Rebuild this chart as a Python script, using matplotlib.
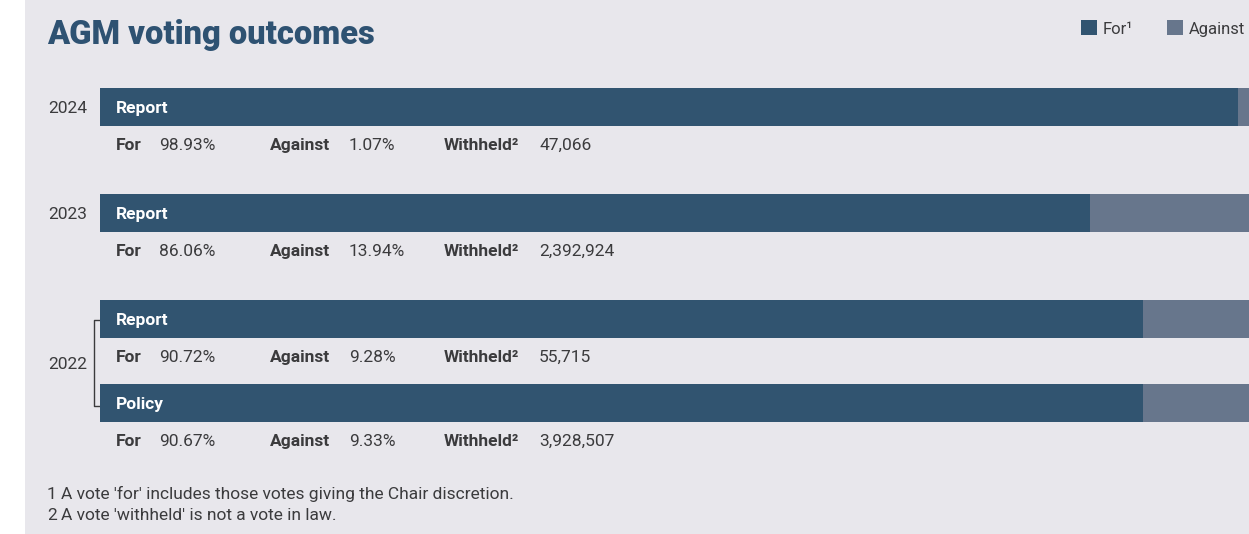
import matplotlib.pyplot as plt
from matplotlib.patches import Rectangle

# Data
years = ['2024', '2023', '2022', '2022']
resolutions = ['Report', 'Report', 'Report', 'Policy']
for_pct = [98.93, 86.06, 90.72, 90.67]
against_pct = [1.07, 13.94, 9.28, 9.33]
withheld = [47066, 2392924, 55715, 3928507]

# Colours
BG = '#e8e7ec'
FOR_C = '#315470'
AGAINST_C = '#67768c'
TEXT_C = '#3b3b3d'
TITLE_C = '#2e5272'

W, H = 1249, 534
plt.rcParams['font.family'] = ['Roboto', 'DejaVu Sans']

fig = plt.figure(figsize=(W / 100, H / 100), dpi=100, facecolor='white')
fig.patches.append(Rectangle((25 / W, 0), 1 - 25 / W, 1, transform=fig.transFigure,
                             facecolor=BG, edgecolor='none', zorder=-5))


def px_text(x, y, s, **kw):
    # y is the visual centre of the capitals; place on baseline so descenders don't shift
    kw.setdefault('color', TEXT_C)
    fs = kw.get('fontsize', 12)
    base = y + fs * 100 / 72 * 0.71 / 2
    return fig.text(x / W, 1 - base / H, s, va='baseline', zorder=5, **kw)


# bar axes: x 0..100 spans pixel 100..1250, y in pixel rows
ax = fig.add_axes([100 / W, 0, 1150 / W, 1])
ax.set_zorder(2)
ax.set_xlim(0, 100)
ax.set_ylim(H, 0)
ax.axis('off')
ax.patch.set_alpha(0)

FS = 12.5
row_tops = [88, 194, 300, 384]
bar_h = 38
for i in range(len(years)):
    y0 = row_tops[i]
    ax.barh(y0, for_pct[i], height=bar_h, align='edge', color=FOR_C, linewidth=0)
    ax.barh(y0, against_pct[i], left=for_pct[i], height=bar_h, align='edge',
            color=AGAINST_C, linewidth=0)
    ys = y0 + 56
    px_text(116, ys, 'For', fontsize=FS, fontweight='bold')
    px_text(159, ys, f'{for_pct[i]:.2f}%', fontsize=FS)
    px_text(270, ys, 'Against', fontsize=FS, fontweight='bold')
    px_text(349, ys, f'{against_pct[i]:.2f}%', fontsize=FS)
    px_text(444, ys, 'Withheld²', fontsize=FS, fontweight='bold')
    px_text(539, ys, f'{withheld[i]:,}', fontsize=FS)

# resolution labels on the bars
for i in range(len(years)):
    px_text(116, row_tops[i] + 19, resolutions[i], color='white',
            fontsize=FS, fontweight='bold')

# year labels
px_text(87, 107, years[0], fontsize=FS, ha='right')
px_text(87, 213, years[1], fontsize=FS, ha='right')
px_text(87, 363, years[2], fontsize=FS, ha='right')

# bracket for 2022
fig.add_artist(plt.Line2D([100 / W, 94 / W, 94 / W, 100 / W],
                          [1 - 320 / H, 1 - 320 / H, 1 - 406 / H, 1 - 406 / H],
                          color=TEXT_C, linewidth=1.0))

# title
px_text(47, 32, 'AGM voting outcomes', fontsize=23.5, fontweight='black', color=TITLE_C)

# legend
fig.patches.append(Rectangle((1081 / W, 1 - 35 / H), 16 / W, 15 / H, transform=fig.transFigure,
                             facecolor=FOR_C, edgecolor='none'))
px_text(1103, 28, 'For¹', fontsize=12)
fig.patches.append(Rectangle((1167 / W, 1 - 35 / H), 16 / W, 15 / H, transform=fig.transFigure,
                             facecolor=AGAINST_C, edgecolor='none'))
px_text(1189, 28, 'Against', fontsize=12)

# footnotes
px_text(47, 493, '1', fontsize=12.5)
px_text(61, 493, "A vote 'for' includes those votes giving the Chair discretion.", fontsize=12.5)
px_text(47, 514, '2', fontsize=12.5)
px_text(61, 514, "A vote 'withheld' is not a vote in law.", fontsize=12.5)

fig.savefig('out.png', dpi=100, facecolor=fig.get_facecolor())
